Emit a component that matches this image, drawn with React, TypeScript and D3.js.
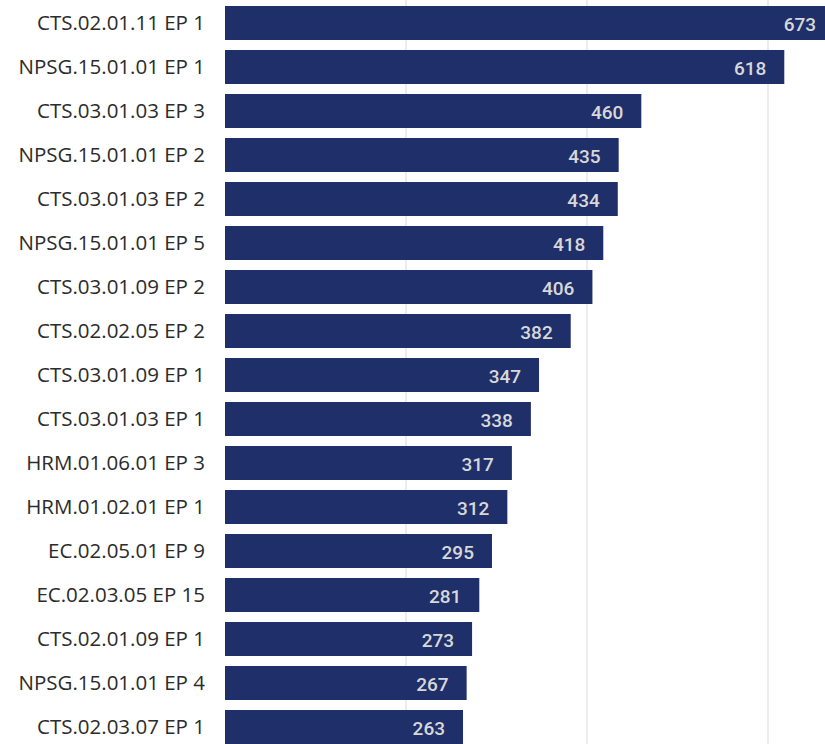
import React from "react";
import * as d3 from "d3";

const categories = [
  "CTS.02.01.11 EP 1",
  "NPSG.15.01.01 EP 1",
  "CTS.03.01.03 EP 3",
  "NPSG.15.01.01 EP 2",
  "CTS.03.01.03 EP 2",
  "NPSG.15.01.01 EP 5",
  "CTS.03.01.09 EP 2",
  "CTS.02.02.05 EP 2",
  "CTS.03.01.09 EP 1",
  "CTS.03.01.03 EP 1",
  "HRM.01.06.01 EP 3",
  "HRM.01.02.01 EP 1",
  "EC.02.05.01 EP 9",
  "EC.02.03.05 EP 15",
  "CTS.02.01.09 EP 1",
  "NPSG.15.01.01 EP 4",
  "CTS.02.03.07 EP 1",
];
const values = [673, 618, 460, 435, 434, 418, 406, 382, 347, 338, 317, 312, 295, 281, 273, 267, 263];
const gridTicks = [200, 400, 600];

const W = 825;
const H = 744;

export default function App() {
  const x = d3.scaleLinear().domain([0, 600]).range([225, 768]);
  const y = d3
    .scaleBand<string>()
    .domain(categories)
    .range([1, 1 + categories.length * 44])
    .paddingInner(10 / 44)
    .paddingOuter(5 / 44);

  return (
    <svg
      width={W}
      height={H}
      style={{ position: "absolute", left: 0, top: 0, background: "#fff" }}
    >
      {gridTicks.map((t) => (
        <line key={t} x1={x(t)} x2={x(t)} y1={0} y2={H} stroke="#e6e6e6" strokeWidth={1.5} />
      ))}
      {categories.map((c, i) => {
        const yy = y(c)!;
        const bw = y.bandwidth();
        const xe = x(values[i]);
        return (
          <g key={c}>
            <rect x={x(0)} y={yy} width={xe - x(0)} height={bw} fill="#1f2f6a" />
            <text
              x={205}
              y={yy + bw / 2}
              dy="0.36em"
              textAnchor="end"
              fontFamily="'Open Sans', 'Noto Sans', sans-serif"
              fontSize={20.5}
              fill="#2b2b2b"
            >
              {c}
            </text>
            <text
              x={xe - 18}
              y={yy + bw / 2 + 1}
              dy="0.36em"
              textAnchor="end"
              fontFamily="Roboto, sans-serif"
              fontWeight={500}
              fontSize={19}
              fill="#d8d8d8"
            >
              {values[i]}
            </text>
          </g>
        );
      })}
    </svg>
  );
}
